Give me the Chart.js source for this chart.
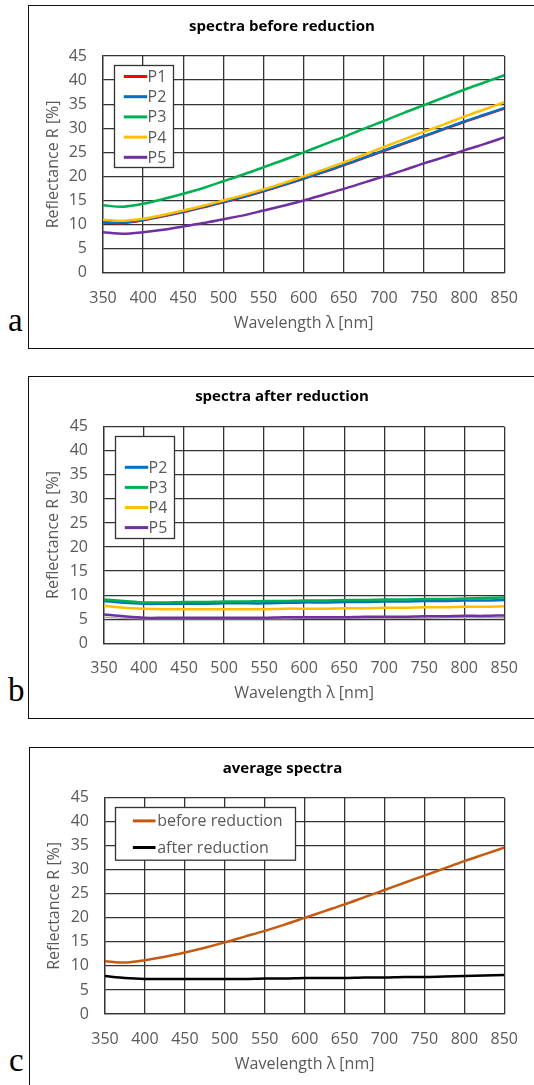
<!DOCTYPE html>
<html>
<head>
<meta charset="utf-8">
<script src="https://cdn.jsdelivr.net/npm/chart.js@4.4.1/dist/chart.umd.min.js"></script>
<style>
  body { margin: 0; background: #fff; width: 534px; height: 1085px; overflow: hidden; position: relative; }
  .frame { position: absolute; border: 1.5px solid #111; box-sizing: border-box; }
  .wrap { position: absolute; }
  .letter { position: absolute; font-family: "Liberation Serif", "DejaVu Serif", serif; font-size: 33px; line-height: 1; color: #000; }
</style>
</head>
<body>
<div class="frame" style="left:28px;top:5px;width:530px;height:344px"></div>
<div class="frame" style="left:28px;top:376px;width:530px;height:343px"></div>
<div class="frame" style="left:29px;top:747px;width:530px;height:360px"></div>

<div class="wrap" style="left:30px;top:7px"><canvas id="chartA" width="504" height="340"></canvas></div>
<div class="wrap" style="left:30px;top:378px"><canvas id="chartB" width="504" height="339"></canvas></div>
<div class="wrap" style="left:31px;top:749px"><canvas id="chartC" width="503" height="336"></canvas></div>

<div class="letter" style="left:8px;top:304px">a</div>
<div class="letter" style="left:8px;top:674px">b</div>
<div class="letter" style="left:9px;top:1044px">c</div>

<script>
// wavelength grid [nm]
const wavelength = [350, 375, 400, 425, 450, 475, 500, 525, 550, 575, 600, 625, 650, 675, 700, 725, 750, 775, 800, 825, 850]

// (a) spectra before reduction, reflectance [%]
const beforeP1 = [10.4, 10.3, 10.9, 11.7, 12.6, 13.6, 14.6, 15.7, 16.9, 18.2, 19.5, 20.9, 22.3, 23.8, 25.3, 26.8, 28.3, 29.8, 31.3, 32.7, 34.1]
const beforeP2 = [10.5, 10.4, 11.0, 11.8, 12.7, 13.7, 14.7, 15.8, 17.0, 18.3, 19.6, 21.0, 22.4, 23.9, 25.4, 26.9, 28.4, 29.9, 31.4, 32.8, 34.2]
const beforeP3 = [14.0, 13.7, 14.3, 15.3, 16.4, 17.6, 19.0, 20.4, 21.9, 23.4, 25.0, 26.6, 28.2, 29.9, 31.5, 33.2, 34.8, 36.4, 38.0, 39.5, 41.0]
const beforeP4 = [11.0, 10.8, 11.2, 12.0, 12.9, 13.9, 15.0, 16.1, 17.3, 18.6, 20.0, 21.4, 22.9, 24.5, 26.1, 27.7, 29.3, 30.8, 32.4, 33.9, 35.4]
const beforeP5 = [8.4, 8.1, 8.4, 8.9, 9.6, 10.3, 11.1, 11.9, 12.9, 13.9, 15.0, 16.2, 17.4, 18.7, 20.0, 21.3, 22.7, 24.0, 25.4, 26.7, 28.1]

// (b) spectra after reduction
const afterP1 = [5.4, 5.2, 5.1, 5.1, 5.1, 5.1, 5.1, 5.1, 5.1, 5.1, 5.2, 5.2, 5.2, 5.2, 5.2, 5.2, 5.2, 5.3, 5.3, 5.3, 5.3]
const afterP2 = [8.8, 8.4, 8.2, 8.2, 8.2, 8.2, 8.3, 8.3, 8.3, 8.4, 8.5, 8.5, 8.6, 8.6, 8.7, 8.7, 8.8, 8.8, 8.9, 8.9, 9.0]
const afterP3 = [9.1, 8.8, 8.5, 8.5, 8.6, 8.6, 8.7, 8.7, 8.8, 8.8, 8.9, 8.9, 9.0, 9.0, 9.1, 9.1, 9.2, 9.2, 9.3, 9.4, 9.5]
const afterP4 = [7.8, 7.4, 7.2, 7.1, 7.1, 7.1, 7.1, 7.1, 7.1, 7.2, 7.2, 7.2, 7.3, 7.3, 7.4, 7.4, 7.5, 7.5, 7.6, 7.6, 7.7]
const afterP5 = [6.0, 5.6, 5.3, 5.3, 5.3, 5.3, 5.3, 5.3, 5.3, 5.4, 5.4, 5.4, 5.4, 5.5, 5.5, 5.5, 5.6, 5.6, 5.7, 5.7, 5.8]

// (c) average spectra
const avgBefore = [11.0, 10.7, 11.2, 11.9, 12.8, 13.8, 14.9, 16.1, 17.3, 18.6, 20.0, 21.4, 22.8, 24.3, 25.8, 27.3, 28.8, 30.3, 31.8, 33.2, 34.6]
const avgAfter = [7.9, 7.5, 7.3, 7.3, 7.3, 7.3, 7.3, 7.3, 7.4, 7.4, 7.5, 7.5, 7.5, 7.6, 7.6, 7.7, 7.7, 7.8, 7.9, 8.0, 8.1]

const sampleLabels = ['P1', 'P2', 'P3', 'P4', 'P5']
const sampleColors = ['#ff0000', '#0070c0', '#00b050', '#ffc000', '#7030a0']

const FONT = '"Open Sans", "Liberation Sans", sans-serif'
const GREY = '#595959'

const pts = (ys) => wavelength.map((x, i) => ({ x: x, y: ys[i] }))

// legend drawn as a framed box inside the plot area
const boxLegend = {
  id: 'boxLegend',
  afterDatasetsDraw (chart, args, opts) {
    const { ctx, chartArea } = chart
    const x = Math.round(chartArea.left + opts.x) + 0.5
    const y = Math.round(chartArea.top + opts.y) + 0.5
    ctx.save()
    ctx.fillStyle = '#fff'
    ctx.fillRect(x, y, opts.w, opts.h)
    ctx.strokeStyle = '#333'
    ctx.lineWidth = 1.3
    ctx.strokeRect(x, y, opts.w, opts.h)
    ctx.font = '16px ' + FONT
    ctx.textBaseline = 'middle'
    chart.data.datasets.forEach((ds, i) => {
      if ((opts.blank || []).includes(ds.label)) return
      const ry = y + opts.first + opts.step * i
      ctx.strokeStyle = ds.borderColor
      ctx.lineWidth = 3
      ctx.beginPath()
      ctx.moveTo(x + opts.lineFrom, ry)
      ctx.lineTo(x + opts.lineTo, ry)
      ctx.stroke()
      ctx.fillStyle = GREY
      ctx.fillText(ds.label, x + opts.textX, ry + 1)
    })
    ctx.restore()
  }
}

function makeChart (id, title, datasets, g, legend) {
  const canvas = document.getElementById(id)
  const w = canvas.width
  const h = canvas.height
  const xh = 72
  return new Chart(canvas.getContext('2d'), {
    type: 'line',
    data: { datasets: datasets },
    plugins: [boxLegend],
    options: {
      responsive: false,
      animation: false,
      layout: { padding: { left: 0, top: 0, right: 0, bottom: h - g.bottom - xh } },
      elements: { point: { radius: 0 }, line: { borderWidth: 2.5, tension: 0.3 } },
      plugins: {
        legend: { display: false },
        tooltip: { enabled: false },
        title: {
          display: true,
          text: title,
          color: '#000',
          font: { family: FONT, size: 15, weight: 'bold', lineHeight: 1.2 },
          padding: { top: g.titleY - 9, bottom: g.top - g.titleY - 9 }
        },
        boxLegend: legend
      },
      scales: {
        x: {
          type: 'linear',
          min: 350,
          max: 850,
          afterFit: (s) => { s.height = xh },
          border: { color: '#333', width: 1.3 },
          grid: { color: '#333', lineWidth: 1.3, drawTicks: false },
          ticks: { stepSize: 50, padding: 16, color: GREY, font: { family: FONT, size: 16 } },
          title: { display: true, text: 'Wavelength λ [nm]', color: GREY, font: { family: FONT, size: 16, lineHeight: 1.2 }, padding: { bottom: 12 } }
        },
        y: {
          min: 0,
          max: 45,
          afterFit: (s) => { s.width = g.left },
          border: { color: '#333', width: 1.3 },
          grid: { color: '#333', lineWidth: 1.3, drawTicks: false },
          ticks: { stepSize: 5, padding: 16, color: GREY, font: { family: FONT, size: 16 } },
          title: { display: true, text: 'Reflectance R [%]', color: GREY, font: { family: FONT, size: 16, lineHeight: 1.2 }, padding: { top: 14 } }
        },
        // empty right-hand margin, so the title stays centred on the whole panel
        margin: {
          position: 'right',
          min: 0,
          max: 45,
          afterFit: (s) => { s.width = w - g.right },
          border: { display: false },
          grid: { display: false },
          ticks: { display: false }
        }
      }
    }
  })
}

const seriesSet = (values, colors) => values.map((v, i) => ({
  label: sampleLabels[i],
  data: pts(v),
  borderColor: colors[i],
  order: values.length - i
}))

makeChart('chartA', 'spectra before reduction',
  seriesSet([beforeP1, beforeP2, beforeP3, beforeP4, beforeP5], sampleColors),
  { left: 73, right: 476, top: 49, bottom: 265.7, titleY: 20 },
  { x: 11, y: 9, w: 59, h: 102, first: 11, step: 20.2, lineFrom: 9.3, lineTo: 32.7, textX: 33 })

const afterSets = seriesSet([afterP1, afterP2, afterP3, afterP4, afterP5], ['#a6a6a6'].concat(sampleColors.slice(1)))
afterSets[0].borderWidth = 1.5
makeChart('chartB', 'spectra after reduction', afterSets,
  { left: 74, right: 476.7, top: 48.7, bottom: 265.3, titleY: 19 },
  { x: 10.7, y: 9.3, w: 59, h: 102, first: 10.7, step: 20.1, lineFrom: 9.3, lineTo: 32.7, textX: 33, blank: ['P1'] })

makeChart('chartC', 'average spectra', [
  { label: 'before reduction', data: pts(avgBefore), borderColor: '#c55a11', order: 2 },
  { label: 'after reduction', data: pts(avgAfter), borderColor: '#000000', order: 1 }
],
  { left: 74, right: 475.7, top: 48.7, bottom: 265, titleY: 20 },
  { x: 10.3, y: 9.6, w: 180, h: 52.7, first: 13.4, step: 26.6, lineFrom: 17.4, lineTo: 40, textX: 41.7 })
</script>
</body>
</html>
